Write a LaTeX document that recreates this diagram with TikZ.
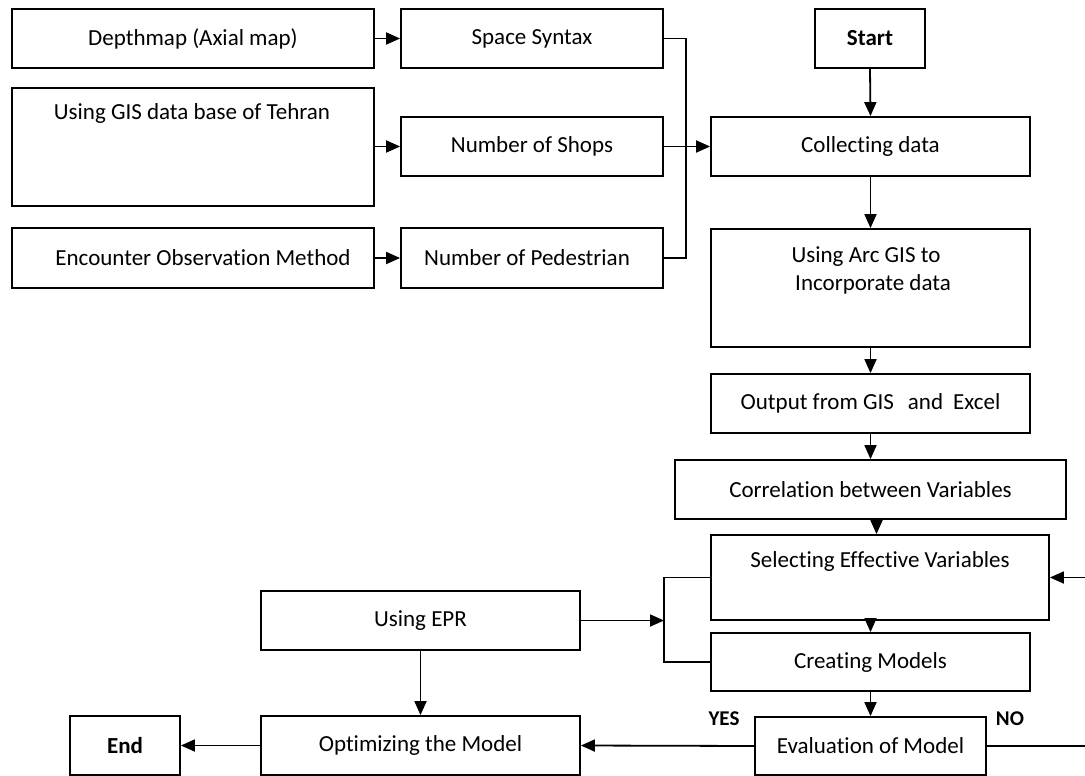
\documentclass[tikz,border=0pt]{standalone}
\usepackage{fontspec}
\setmainfont{Carlito}[Ligatures=NoCommon]
\usetikzlibrary{arrows.meta}
\begin{document}
\begin{tikzpicture}[x=1pt,y=-1pt,
  box/.style={draw, line width=1.8pt, rectangle, inner sep=0pt, align=center,
    font=\fontsize{23}{28}\selectfont},
  txt/.style={inner sep=0pt, align=center, font=\fontsize{23}{28}\selectfont},
  lab/.style={inner sep=0pt, font=\fontsize{21}{25}\selectfont\bfseries},
  arr/.style={line width=1.8pt, -{Triangle[length=14pt,width=12pt]}},
  ln/.style={line width=1.8pt}]
\useasboundingbox (0,0) rectangle (1085,776);
% left column
\node[box, minimum width=362, minimum height=59] (dep) at (193,38.5) {Depthmap (Axial map)};
\node[box, minimum width=362, minimum height=118] (gis) at (193,147) {};
\node[txt] (gistxt) at (192,113) {Using GIS data base of Tehran};
\node[box, minimum width=362, minimum height=60] (enc) at (193,258) {\hspace*{20pt}Encounter Observation Method};
% middle column
\node[box, minimum width=262, minimum height=59] (ss) at (532,38.5) {Space Syntax};
\node[box, minimum width=262, minimum height=59] (shops) at (532,146.5) {Number of Shops};
\node[box, minimum width=262, minimum height=60] (ped) at (532,258) {Number of Pedestrian\hspace*{10pt}};
% right column
\node[box, minimum width=110, minimum height=59, font=\fontsize{23}{28}\selectfont\bfseries] (start) at (870,38.5) {Start};
\node[box, minimum width=319, minimum height=59] (coll) at (870.5,146.5) {Collecting data};
\node[box, minimum width=319, minimum height=118] (arc) at (870.5,288) {};
\node[txt] (arctxt) at (866,270) {Using Arc GIS to\\\hspace*{14pt}Incorporate data};
\node[box, minimum width=319, minimum height=59] (out) at (870.5,403.5) {Output from GIS\hspace{14pt}and\hspace{10pt}Excel};
\node[box, minimum width=391, minimum height=59] (corr) at (870.5,489.5) {Correlation between Variables};
\node[box, minimum width=338, minimum height=85] (sel) at (880,577.5) {};
\node[txt] (seltxt) at (880,561) {Selecting Effective Variables};
\node[box, minimum width=319, minimum height=58] (cre) at (870.5,662) {Creating Models};
\node[box, minimum width=231, minimum height=58] (eval) at (870.5,746) {Evaluation of Model};
% bottom left
\node[box, minimum width=319, minimum height=59] (epr) at (420.5,620.5) {Using EPR};
\node[box, minimum width=319, minimum height=59] (opt) at (420.5,745.5) {Optimizing the Model};
\node[box, minimum width=110, minimum height=59, font=\fontsize{23}{28}\selectfont\bfseries] (end) at (125,745.5) {End};
% labels
\node[lab] (yes) at (724,719) {YES};
\node[lab] (no) at (1010,719) {NO};
% coordinates
\coordinate (brk) at (664,620.5);
\coordinate (rt) at (1090,746);
% connectors
\draw[arr] (dep.east) -- (ss.west);
\draw[arr] (gis.east |- shops.west) -- (shops.west);
\draw[arr] (enc.east) -- (ped.west);
\draw[ln] (ss.east) -- ++(22,0) |- (ped.east);
\draw[arr] (shops.east) -- (coll.west);
\draw[arr] (start.south) -- (coll.north);
\draw[arr] (coll.south) -- (arc.north);
\draw[arr] (arc.south) -- (out.north);
\draw[arr] (out.south) -- (corr.north);
\draw[arr] ([xshift=6pt]corr.south) -- ([xshift=6pt]corr.south |- sel.north);
\draw[arr] (cre.north |- sel.south) -- (cre.north);
\draw[ln] (sel.west) -- (sel.west -| brk) |- (cre.west);
\draw[arr] (epr.east) -- (brk);
\draw[arr] (epr.south) -- (opt.north);
\draw[arr] (cre.south) -- (eval.north);
\draw[arr] (eval.west) -- (opt.east);
\draw[arr] (opt.west) -- (end.east);
\draw[arr] (eval.east) -- (rt) |- (sel.east);
\end{tikzpicture}
\end{document}
